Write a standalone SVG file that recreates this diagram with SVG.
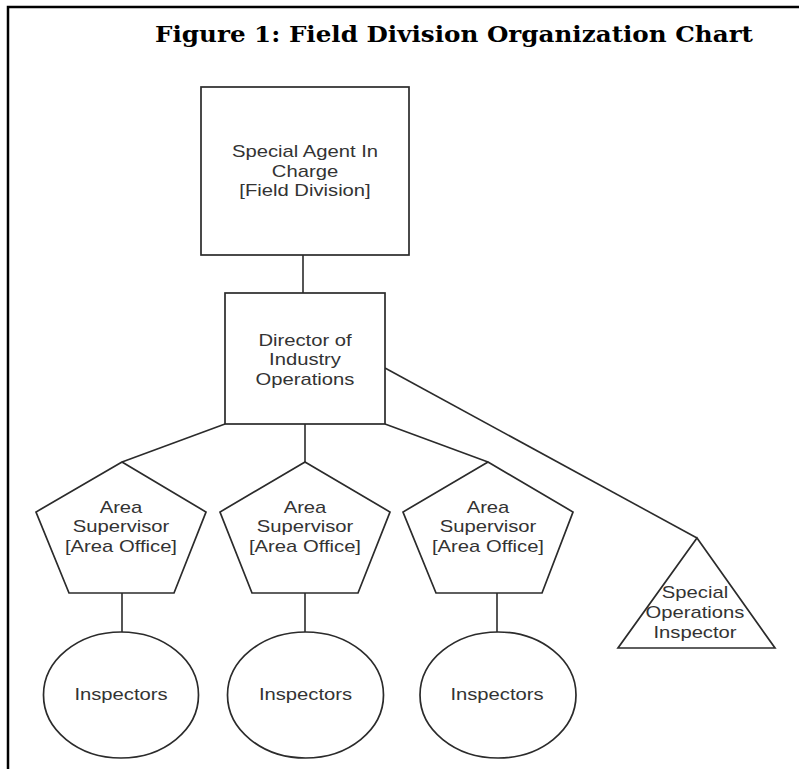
<svg xmlns="http://www.w3.org/2000/svg" width="799" height="769" viewBox="0 0 799 769">
<style>
.frame{fill:none;stroke:#000;stroke-width:2.5}
.shape{fill:#fff;stroke:#2b2b2b;stroke-width:1.7}
.conn{fill:none;stroke:#2b2b2b;stroke-width:1.6}
.lbl{font-family:"Liberation Sans",Arial,sans-serif;font-size:17px;fill:#333;text-anchor:middle}
.title{font-family:"DejaVu Serif","Liberation Serif",serif;font-weight:bold;font-size:22px;fill:#000}
</style>
<rect x="0" y="0" width="799" height="769" fill="#fff"/>
<path class="frame" d="M8,769 V7 H799"/>
<text class="title" x="155" y="42" textLength="598" lengthAdjust="spacingAndGlyphs">Figure 1: Field Division Organization Chart</text>
<g id="connectors">
<line class="conn" x1="303" y1="255" x2="303" y2="293"/>
<line class="conn" x1="225" y1="424" x2="122" y2="462"/>
<line class="conn" x1="305" y1="424" x2="305" y2="462"/>
<line class="conn" x1="385" y1="424" x2="488" y2="462"/>
<line class="conn" x1="385" y1="368" x2="697" y2="538"/>
<line class="conn" x1="122" y1="593" x2="122" y2="632"/>
<line class="conn" x1="305" y1="593" x2="305" y2="632"/>
<line class="conn" x1="497" y1="593" x2="497" y2="632"/>
</g>
<g id="sac">
<rect class="shape" x="201" y="87" width="208" height="168"/>
<text class="lbl" transform="translate(305 0) scale(1.19 1)"><tspan x="0" y="157.5">Special Agent In</tspan><tspan x="0" y="177">Charge</tspan><tspan x="0" y="196.5">[Field Division]</tspan></text>
</g>
<g id="dio">
<rect class="shape" x="225" y="293" width="160" height="131"/>
<text class="lbl" transform="translate(305 0) scale(1.19 1)"><tspan x="0" y="346">Director of</tspan><tspan x="0" y="365.5">Industry</tspan><tspan x="0" y="385">Operations</tspan></text>
</g>
<g id="area1">
<polygon class="shape" points="122,462 206,512 174,593 69,593 36,512"/>
<text class="lbl" transform="translate(121 0) scale(1.19 1)"><tspan x="0" y="513">Area</tspan><tspan x="0" y="532.5">Supervisor</tspan><tspan x="0" y="552">[Area Office]</tspan></text>
</g>
<g id="area2">
<polygon class="shape" points="305,462 390,512 358,593 252,593 220,512"/>
<text class="lbl" transform="translate(305 0) scale(1.19 1)"><tspan x="0" y="513">Area</tspan><tspan x="0" y="532.5">Supervisor</tspan><tspan x="0" y="552">[Area Office]</tspan></text>
</g>
<g id="area3">
<polygon class="shape" points="488,462 573,512 542,593 436,593 403,512"/>
<text class="lbl" transform="translate(488 0) scale(1.19 1)"><tspan x="0" y="513">Area</tspan><tspan x="0" y="532.5">Supervisor</tspan><tspan x="0" y="552">[Area Office]</tspan></text>
</g>
<g id="soi">
<polygon class="shape" points="697,538 775,648 618,648"/>
<text class="lbl" transform="translate(695 0) scale(1.19 1)"><tspan x="0" y="598">Special</tspan><tspan x="0" y="618">Operations</tspan><tspan x="0" y="638">Inspector</tspan></text>
</g>
<g id="insp1">
<ellipse class="shape" cx="121" cy="695" rx="77.5" ry="63"/>
<text class="lbl" transform="translate(121 0) scale(1.19 1)" x="0" y="700">Inspectors</text>
</g>
<g id="insp2">
<ellipse class="shape" cx="305.5" cy="695" rx="78" ry="63"/>
<text class="lbl" transform="translate(305.5 0) scale(1.19 1)" x="0" y="700">Inspectors</text>
</g>
<g id="insp3">
<ellipse class="shape" cx="498" cy="695" rx="78" ry="63"/>
<text class="lbl" transform="translate(497 0) scale(1.19 1)" x="0" y="700">Inspectors</text>
</g>
</svg>
